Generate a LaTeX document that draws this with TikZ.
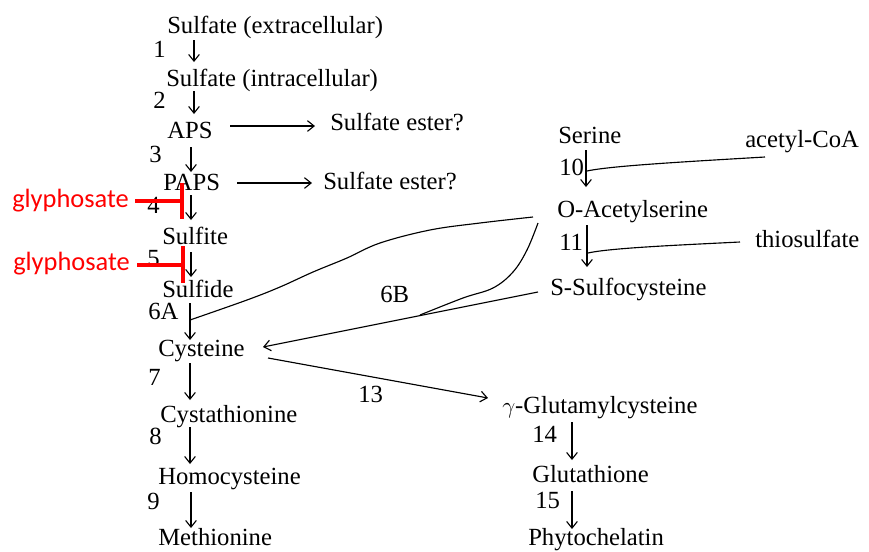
\documentclass[tikz,border=0pt]{standalone}
\usepackage{fontspec}
\setmainfont{Liberation Serif}
\newfontfamily\glyfont{Carlito}
\usetikzlibrary{arrows.meta}
\begin{document}
\begin{tikzpicture}[x=0.75pt,y=-0.75pt,
  lbl/.style={anchor=base west,inner sep=0pt,font=\fontsize{18.5}{20}\selectfont},
  inh/.style={anchor=base west,inner sep=0pt,text=red,font=\glyfont\fontsize{19.8}{22}\selectfont},
  arr/.style={line width=0.85pt,-{Straight Barb[length=5pt,width=8pt]}},
  ln/.style={line width=0.85pt},
  redln/.style={draw=red,line width=3pt}]
\useasboundingbox (0,0) rectangle (869,551);
% left column
\node[lbl] (sext) at (167,33) {Sulfate (extracellular)};
\node[lbl] (n1) at (153,57) {1};
\node[lbl] (sint) at (166,86) {Sulfate (intracellular)};
\node[lbl] (n2) at (153,108) {2};
\node[lbl] (aps) at (167,138) {APS};
\node[lbl] (se1) at (330,130) {Sulfate ester?};
\node[lbl] (n3) at (149,162) {3};
\node[lbl] (paps) at (163,190) {PAPS};
\node[lbl] (se2) at (323,189) {Sulfate ester?};
\node[lbl] (n4) at (147,213) {4};
\node[lbl] (sulfite) at (162,244) {Sulfite};
\node[lbl] (n5) at (147,266) {5};
\node[lbl] (sulfide) at (162,297) {Sulfide};
\node[lbl] (n6a) at (148,319) {6A};
\node[lbl] (cys) at (158,356) {Cysteine};
\node[lbl] (n7) at (148,385) {7};
\node[lbl] (cysta) at (160,422) {Cystathionine};
\node[lbl] (n8) at (149,444) {8};
\node[lbl] (homo) at (158,484) {Homocysteine};
\node[lbl] (n9) at (147,509) {9};
\node[lbl] (met) at (158,545) {Methionine};
% right column
\node[lbl] (ser) at (558,143) {Serine};
\node[lbl] (acoa) at (745,147) {acetyl-CoA};
\node[lbl] (n10) at (559,175) {10};
\node[lbl] (oas) at (557,217) {O-Acetylserine};
\node[lbl] (n11) at (559,250) {11};
\node[lbl] (thio) at (755,247) {thiosulfate};
\node[lbl] (ssc) at (550,295) {S-Sulfocysteine};
\node[lbl] (n6b) at (380,302) {6B};
\node[lbl] (n13) at (358,402) {13};
\node[lbl] (ggc) at (502,413) {$\gamma$-Glutamylcysteine};
\node[lbl] (n14) at (532,442) {14};
\node[lbl] (glut) at (532,482) {Glutathione};
\node[lbl] (n15) at (535,508) {15};
\node[lbl] (phyto) at (528,545) {Phytochelatin};
% inhibitor labels
\node[inh] (gly1) at (12,207) {glyphosate};
\node[inh] (gly2) at (13,270) {glyphosate};
% junction points
\coordinate (j10) at (587,171);
\coordinate (j11) at (588,253);
\coordinate (j6a) at (190,320);
\coordinate (j6b) at (420,315);
% vertical arrows
\draw[arr] ([shift={(27,7)}]sext.base west) -- ([shift={(28,-24)}]sint.base west);
\draw[arr] ([shift={(28,5)}]sint.base west) -- ([shift={(27,-24)}]aps.base west);
\draw[arr] ([shift={(24,9)}]aps.base west) -- ([shift={(28,-18)}]paps.base west);
\draw[arr] ([shift={(28,5)}]paps.base west) -- ([shift={(29,-24)}]sulfite.base west);
\draw[arr] ([shift={(29,8)}]sulfite.base west) -- ([shift={(29,-20)}]sulfide.base west);
\draw[arr] ([shift={(28,6)}]sulfide.base west) -- ([shift={(32,-16)}]cys.base west);
\draw[arr] ([shift={(32,7)}]cys.base west) -- ([shift={(30,-22)}]cysta.base west);
\draw[arr] ([shift={(30,5)}]cysta.base west) -- ([shift={(32,-20)}]homo.base west);
\draw[arr] ([shift={(33,8)}]homo.base west) -- ([shift={(33,-17)}]met.base west);
\draw[arr] ([shift={(28,7)}]ser.base west) -- ([shift={(29,-30)}]oas.base west);
\draw[arr] ([shift={(30,8)}]oas.base west) -- ([shift={(37,-28)}]ssc.base west);
\draw[arr] ([shift={(70,9)}]ggc.base west) -- ([shift={(40,-22)}]glut.base west);
\draw[arr] ([shift={(40,9)}]glut.base west) -- ([shift={(44,-16)}]phyto.base west);
% horizontal arrows
\draw[arr] ([shift={(63,-12)}]aps.base west) -- ([shift={(-15,-4)}]se1.base west);
\draw[arr] ([shift={(74,-7)}]paps.base west) -- ([shift={(-11,-6)}]se2.base west);
% diagonal arrows
\draw[arr] ([shift={(-12,-3)}]ssc.base west) -- ([shift={(105,-9)}]cys.base west);
\draw[arr] ([shift={(110,2)}]cys.base west) -- ([shift={(-14,-15)}]ggc.base west);
% cosubstrate lines
\draw[ln] ([shift={(20,10)}]acoa.base west) .. controls (680,162) and (610,166) .. (j10);
\draw[ln] ([shift={(-15,-5)}]thio.base west) .. controls (680,245) and (610,248) .. (j11);
% O-acetylserine curves
\draw[ln] plot[smooth,tension=0.6] coordinates {([shift={(-24,0)}]oas.base west) (480,223) (430,230) (380,243) (347,258) (313,272) (280,287) (247,300) (j6a)};
\draw[ln] plot[smooth,tension=0.6] coordinates {([shift={(-19,6)}]oas.base west) (527,250) (513,272) (493,288) (463,298) (j6b)};
% glyphosate inhibition
\draw[redln] ([shift={(6,-6)}]gly1.base east) -- (182,201);
\draw[redln] (182,183) -- (182,219);
\draw[redln] ([shift={(7,-5)}]gly2.base east) -- (183,265);
\draw[redln] (183,246) -- (183,283);
\end{tikzpicture}
\end{document}
